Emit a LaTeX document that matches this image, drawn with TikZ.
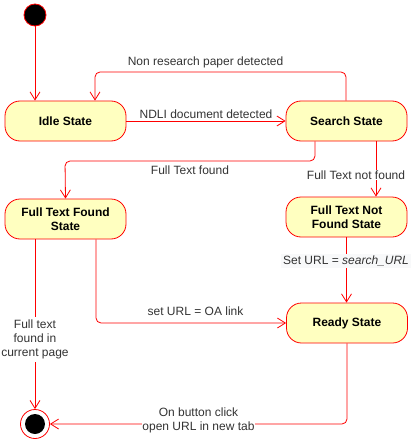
\documentclass[tikz,border=0pt]{standalone}
\usepackage{fontspec}
\setmainfont{Liberation Sans}
\usetikzlibrary{arrows.meta}
\definecolor{stfill}{HTML}{FFFFC0}
\definecolor{stline}{HTML}{FF0000}
\definecolor{lbltext}{HTML}{333333}
\definecolor{lblbg}{HTML}{F8F9FA}
\begin{document}
\begin{tikzpicture}[x=1pt,y=-1pt,
  statebox/.style={draw=stline,fill=stfill,rounded corners=15pt,minimum width=121pt,minimum height=40pt,inner sep=0pt,font=\fontsize{12}{14}\selectfont\bfseries,align=center,line width=0.8pt},
  conn/.style={draw=stline,line width=0.8pt,rounded corners=5pt,-{Straight Barb[length=8pt,width=10pt,line width=0.8pt]}},
  lbl/.style={font=\fontsize{12}{14}\selectfont,text=lbltext,fill=white,inner sep=1pt,align=center}]
\useasboundingbox (0,0) rectangle (410,441);
% states
\node[circle,fill=black,draw=stline,line width=0.8pt,minimum size=22pt,inner sep=0pt] (init) at (35,15) {};
\node[statebox] (idle) at (65.5,121) {Idle State};
\node[statebox] (search) at (346.5,121) {Search State};
\node[statebox] (ftf) at (65.5,219) {Full Text Found\\State};
\node[statebox] (ftnf) at (346.5,217) {Full Text Not\\Found State};
\node[statebox] (ready) at (347,323) {Ready State};
\node[circle,draw=stline,fill=white,line width=0.8pt,minimum size=29pt,inner sep=0pt] (final) at (35,424) {};
\node[circle,fill=black,minimum size=20pt,inner sep=0pt] (finalin) at (35,424) {};
% connectors
\draw[conn] (init) -- (idle.north -| init);
\draw[conn] (idle.east) -- (search.west)
  node[lbl,midway,above=1pt,fill=none] (l1) {NDLI document detected};
\coordinate (nr) at (346,72);
\draw[conn] (search.north -| nr) -- (nr) -- (95,72) -- (idle.north -| 95,72);
\node[lbl,fill=none] (l2) at (205.5,62) {Non research paper detected};
\coordinate (ftk) at (315,161);
\draw[conn] (search.south -| ftk) -- (ftk) -- (65,161) -- (ftf.north);
\node[lbl,fill=none] (l3) at (190,170) {Full Text found};
\coordinate (nf) at (376,160);
\draw[conn] (search.south -| nf) -- (ftnf.north -| nf);
\node[lbl] (l4) at (356,175) {Full Text not found};
\draw[conn] (ftnf.south) -- (ready.north -| ftnf.south);
\node[lbl,fill=lblbg,inner sep=2pt] (l5) at (346,261) {Set URL = \textit{search\_URL}};
\coordinate (oa) at (96,323);
\draw[conn] (ftf.south -| oa) -- (oa) -- (ready.west);
\node[lbl,fill=none] (l6) at (195.5,311) {set URL = OA link};
\draw[conn] (ftf.south -| final) -- (final.north);
\node[lbl,inner sep=3pt] (l7) at (35,339.5) {Full text\\found in\\current page};
\coordinate (ob) at (347,424);
\draw[conn] (ready.south) -- (ob) -- (final.east);
\node[lbl,inner sep=0pt] (l8) at (198.5,420.5) {On button click\\open URL in new tab};
\end{tikzpicture}
\end{document}
